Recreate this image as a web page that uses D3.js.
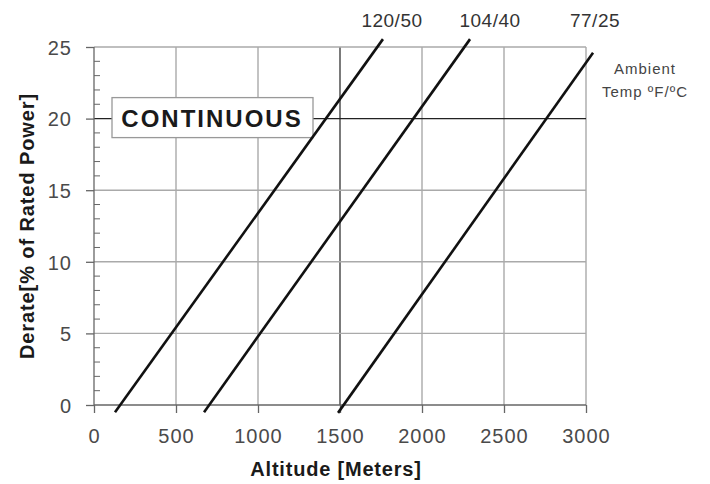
<!DOCTYPE html>
<html>
<head>
<meta charset="utf-8">
<script src="https://cdn.jsdelivr.net/npm/d3@7"></script>
<style>
  body { margin: 0; background: #fff; }
  svg { display: block; font-family: "Liberation Sans", Arial, sans-serif; }
</style>
</head>
<body>
<script>
// chart data
var altitudeTicks = [0, 500, 1000, 1500, 2000, 2500, 3000];
var derateTicks = [0, 5, 10, 15, 20, 25];
var minorDerate = d3.range(0, 25, 1);

// each temperature line: [altitude, derate] at its two ends
var tempLabels = ["120/50", "104/40", "77/25"];
var line120 = [[128, -0.5], [1762, 25.55]];
var line104 = [[671, -0.5], [2293, 25.55]];
var line77 = [[1488, -0.55], [3043, 24.6]];
var labelAltitude = [1817, 2415, 3055];

var svgWidth = 710, svgHeight = 484;
var margin = { top: 47, right: 124, bottom: 79, left: 94 };
var chartWidth = svgWidth - margin.left - margin.right;
var chartHeight = svgHeight - margin.top - margin.bottom;

var svg = d3.select("body").append("svg")
  .attr("width", svgWidth)
  .attr("height", svgHeight);

var x = d3.scaleLinear().domain([0, 3000]).range([0, chartWidth]);
var y = d3.scaleLinear().domain([0, 25]).range([chartHeight, 0]);

var g = svg.append("g")
  .attr("transform", "translate(" + margin.left + "," + margin.top + ")");

// grid
g.selectAll(".vgrid")
  .data(altitudeTicks.filter(function(d) { return d > 0; }))
  .enter().append("line")
  .attr("x1", function(d) { return x(d); })
  .attr("x2", function(d) { return x(d); })
  .attr("y1", 0)
  .attr("y2", chartHeight)
  .attr("stroke", function(d) { return d === 1500 ? "#222" : "#aaa"; })
  .attr("stroke-width", function(d) { return d === 1500 ? 1.2 : 1.4; });

g.selectAll(".hgrid")
  .data(derateTicks.filter(function(d) { return d > 0; }))
  .enter().append("line")
  .attr("x1", 0)
  .attr("x2", chartWidth)
  .attr("y1", function(d) { return y(d); })
  .attr("y2", function(d) { return y(d); })
  .attr("stroke", function(d) { return d === 20 ? "#222" : "#aaa"; })
  .attr("stroke-width", function(d) { return d === 20 ? 1.2 : 1.4; });

// minor ticks on the derate axis
g.selectAll(".minor")
  .data(minorDerate.filter(function(d) { return d % 5 !== 0; }))
  .enter().append("line")
  .attr("x1", 0)
  .attr("x2", 6)
  .attr("y1", function(d) { return y(d); })
  .attr("y2", function(d) { return y(d); })
  .attr("stroke", "#666")
  .attr("stroke-width", 1);

// axes
var xAxis = d3.axisBottom(x).tickValues(altitudeTicks).tickFormat(d3.format("d"))
  .tickSize(8).tickPadding(16);
var yAxis = d3.axisLeft(y).tickValues(derateTicks).tickSize(8).tickPadding(14);

var gx = g.append("g")
  .attr("transform", "translate(0," + chartHeight + ")")
  .call(xAxis);
var gy = g.append("g").call(yAxis);

[gx, gy].forEach(function(a) {
  a.select(".domain").attr("stroke", "#666").attr("stroke-width", 1.3);
  a.selectAll(".tick line").attr("stroke", "#666").attr("stroke-width", 1.3);
  a.selectAll(".tick text")
    .attr("fill", "#4a4a4a")
    .style("font-size", "20px")
    .style("letter-spacing", "1px");
});
gx.select(".domain").attr("d", "M0,0H" + chartWidth);
gy.select(".domain").attr("d", "M0," + chartHeight + "V0");
gy.selectAll(".tick text").attr("dy", "0.36em");

// continuous box
var box = g.append("g");
box.append("rect")
  .attr("x", 18)
  .attr("y", y(20) - 21)
  .attr("width", 201)
  .attr("height", 40)
  .attr("fill", "#fff")
  .attr("stroke", "#999")
  .attr("stroke-width", 1.3);
box.append("text")
  .attr("x", 118)
  .attr("y", y(20))
  .attr("dy", "0.36em")
  .attr("text-anchor", "middle")
  .attr("fill", "#1a1a1a")
  .style("font-size", "24px")
  .style("font-weight", "bold")
  .style("letter-spacing", "2px")
  .text("CONTINUOUS");

// temperature lines
var line = d3.line()
  .x(function(d) { return x(d[0]); })
  .y(function(d) { return y(d[1]); });

g.selectAll(".temp")
  .data([line120, line104, line77])
  .enter().append("path")
  .attr("d", line)
  .attr("fill", "none")
  .attr("stroke", "#111")
  .attr("stroke-width", 2.6);

g.selectAll(".templabel")
  .data(tempLabels)
  .enter().append("text")
  .attr("x", function(d, i) { return x(labelAltitude[i]); })
  .attr("y", -20)
  .attr("text-anchor", "middle")
  .attr("fill", "#333")
  .style("font-size", "19px")
  .style("letter-spacing", "0.5px")
  .text(function(d) { return d; });

g.append("text")
  .attr("x", x(3000) + 59)
  .attr("y", 27)
  .attr("text-anchor", "middle")
  .attr("fill", "#444")
  .style("font-size", "15px")
  .style("letter-spacing", "1px")
  .text("Ambient");
g.append("text")
  .attr("x", x(3000) + 59)
  .attr("y", 50)
  .attr("text-anchor", "middle")
  .attr("fill", "#444")
  .style("font-size", "15px")
  .style("letter-spacing", "1px")
  .text("Temp ºF/ºC");

// axis titles
svg.append("text")
  .attr("x", margin.left + x(1500) - 4)
  .attr("y", 476)
  .attr("text-anchor", "middle")
  .attr("fill", "#1a1a1a")
  .style("font-size", "20px")
  .style("font-weight", "bold")
  .style("letter-spacing", "0.8px")
  .text("Altitude [Meters]");

svg.append("text")
  .attr("transform", "translate(34,226) rotate(-90)")
  .attr("text-anchor", "middle")
  .attr("fill", "#1a1a1a")
  .style("font-size", "20px")
  .style("font-weight", "bold")
  .style("letter-spacing", "0.9px")
  .text("Derate[% of Rated Power]");
</script>
</body>
</html>
